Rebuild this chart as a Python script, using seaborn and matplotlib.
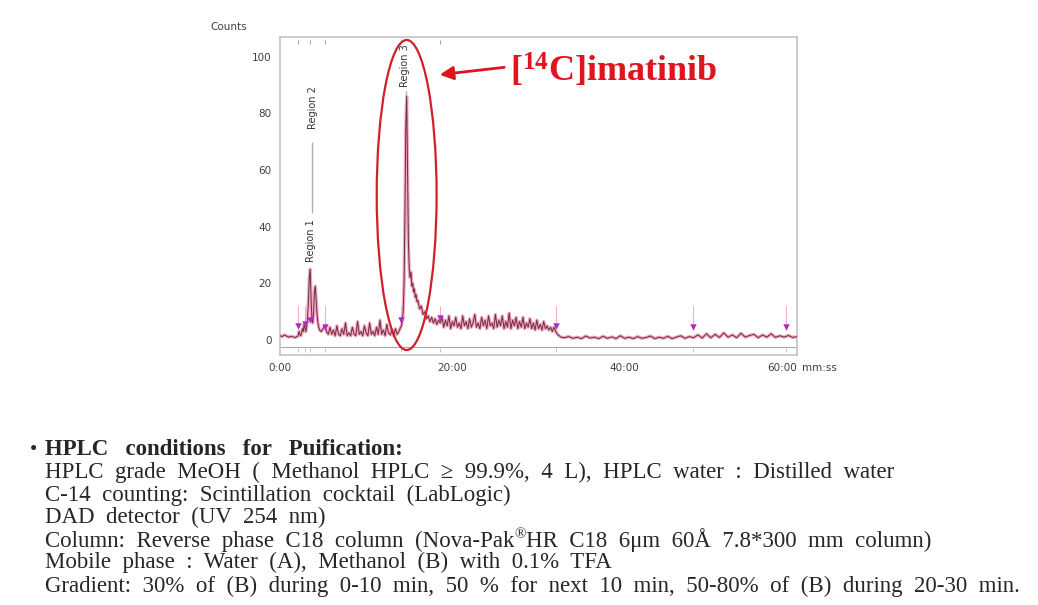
import numpy as np
import matplotlib.pyplot as plt
import seaborn as sns
from matplotlib.patches import Ellipse

# radio-HPLC trace, time in minutes, counts
time_min = [
    0.0, 0.25, 0.5, 0.75, 1.0, 1.25, 1.5, 1.75, 2.0,
    2.1, 2.2, 2.3, 2.4, 2.5, 2.6, 2.7, 2.8, 2.9, 3.0, 3.1, 3.2, 3.3, 3.4, 3.5,
    3.6, 3.7, 3.8, 3.9, 4.0, 4.1, 4.2, 4.3, 4.4, 4.5, 4.6, 4.8, 5.0, 5.2, 5.4, 5.6,
    5.8, 6.0, 6.2, 6.4, 6.6, 6.8, 7.0, 7.2, 7.4, 7.6, 7.8, 8.0, 8.2, 8.4, 8.6, 8.8,
    9.0, 9.2, 9.4, 9.6, 9.8, 10.0, 10.2, 10.4, 10.6, 10.8, 11.0, 11.2, 11.4, 11.6,
    11.8, 12.0, 12.2, 12.4, 12.6, 12.8, 13.0, 13.2, 13.4, 13.6, 13.8, 14.0,
    14.1, 14.2, 14.3, 14.4, 14.5, 14.6, 14.7, 14.8, 14.9, 15.0, 15.1, 15.2, 15.3,
    15.4, 15.5, 15.6, 15.7, 15.8, 15.9, 16.0, 16.2, 16.4, 16.6, 16.8, 17.0, 17.2,
    17.4, 17.6, 17.8, 18.0, 18.2, 18.4, 18.6, 18.8,
    19.0, 19.2, 19.4, 19.6, 19.8, 20.0, 20.2, 20.4, 20.6, 20.8, 21.0, 21.2, 21.4,
    21.6, 21.8, 22.0, 22.2, 22.4, 22.6, 22.8, 23.0, 23.2, 23.4, 23.6, 23.8, 24.0,
    24.2, 24.4, 24.6, 24.8, 25.0, 25.2, 25.4, 25.6, 25.8, 26.0, 26.2, 26.4, 26.6,
    26.8, 27.0, 27.2, 27.4, 27.6, 27.8, 28.0, 28.2, 28.4, 28.6, 28.8, 29.0, 29.2,
    29.4, 29.6, 29.8, 30.0, 30.2, 30.4, 30.6, 30.8, 31.0, 31.2, 31.4, 31.6, 31.8,
    32.0, 32.2, 32.4, 32.6,
    33.0, 33.5, 34.0, 34.5, 35.0, 35.5, 36.0, 36.5, 37.0, 37.5, 38.0, 38.5, 39.0,
    39.5, 40.0, 40.5, 41.0, 41.5, 42.0, 42.5, 43.0, 43.5, 44.0, 44.5, 45.0, 45.5,
    46.0, 46.5, 47.0, 47.5, 48.0, 48.5, 49.0, 49.5, 50.0, 50.5, 51.0, 51.5, 52.0,
    52.5, 53.0, 53.5, 54.0, 54.5, 55.0, 55.5, 56.0, 56.5, 57.0, 57.5, 58.0, 58.5,
    59.0, 59.5, 60.0,
]
counts = [
    1.5, 1.2, 1.8, 1.4, 1.0, 1.3, 1.1, 0.9, 1.2,
    1.5, 3.0, 2.0, 1.5, 2.5, 4.0, 3.0, 5.5, 4.0, 3.0, 5.0, 8.0, 14.0, 22.0, 25.0,
    15.0, 8.0, 6.0, 10.0, 17.0, 19.0, 14.0, 9.0, 6.0, 4.5, 3.5, 3.0, 4.0, 5.0, 3.0, 2.0,
    4.5, 2.0, 3.5, 1.5, 5.0, 2.0, 1.5, 4.0, 2.0, 6.0, 1.5, 2.5, 1.5, 4.5, 2.0, 1.5,
    6.5, 2.0, 3.0, 1.5, 5.0, 2.5, 1.5, 6.0, 2.0, 3.0, 1.5, 4.5, 2.0, 7.0,
    2.0, 3.5, 1.5, 5.5, 2.5, 1.8, 3.5, 1.5, 4.0, 2.0, 3.0, 4.5,
    5.0, 7.0, 10.0, 20.0, 45.0, 75.0, 86.0, 60.0, 35.0, 25.0, 22.0, 24.0, 19.0,
    20.0, 17.0, 18.0, 15.0, 16.0, 13.5, 14.0, 11.0, 12.0, 9.0, 10.0, 7.5, 8.5,
    6.5, 8.0, 6.0, 7.5, 5.5, 7.0, 6.0, 8.0,
    4.5, 7.0, 5.0, 8.5, 4.0, 6.5, 5.0, 8.0, 4.5, 6.0, 4.0, 8.5, 5.0,
    6.5, 4.0, 7.5, 4.5, 6.0, 9.0, 4.5, 6.0, 4.0, 8.0, 5.0, 7.0, 4.0,
    8.5, 5.0, 6.0, 4.0, 9.0, 4.5, 7.0, 5.0, 8.5, 4.0, 6.5, 4.5, 9.5,
    4.0, 7.0, 5.0, 8.0, 4.0, 6.5, 4.5, 8.0, 4.0, 6.0, 4.5, 7.5, 4.0,
    6.0, 3.5, 7.0, 4.0, 5.5, 3.5, 6.5, 4.0, 5.0, 3.5, 4.5, 3.0, 4.5,
    3.0, 2.0, 1.5, 1.0,
    0.8, 1.2, 0.6, 1.0, 0.5, 1.4, 0.7, 1.0, 0.5, 1.3, 0.6, 1.1, 0.5,
    1.5, 0.6, 1.0, 0.5, 1.2, 0.6, 0.9, 1.4, 0.5, 1.0, 0.6, 1.3, 0.5,
    1.0, 1.5, 0.6, 1.2, 0.8, 1.8, 0.7, 2.2, 0.8, 2.0, 0.9, 2.5, 1.0,
    1.8, 0.8, 2.4, 1.0, 1.6, 2.0, 0.8, 1.8, 1.0, 2.2, 0.9, 1.5, 1.0,
    1.6, 0.9, 1.2,
]

# region boundary markers (magenta triangles)
marker_t = [2.1, 2.9, 3.5, 5.2, 14.1, 18.6, 32.0, 47.9, 58.7]
marker_y = [5.0, 5.7, 7.0, 4.7, 7.0, 7.7, 4.9, 4.6, 4.6]

# region labels: (time, counts of label centre)
region_names = ['Region 1', 'Region 2', 'Region 3']
region_t = [3.6, 3.8, 14.5]
region_y = [35.0, 82.0, 97.0]

xtick_vals = [0, 20, 40, 60]
xtick_text = ['0:00', '20:00', '40:00', '60:00']
ytick_vals = [0, 20, 40, 60, 80, 100]

title_line = 'HPLC conditions for Puification:'
conditions = [
    ['HPLC grade MeOH ( Methanol HPLC \u2265 99.9%, 4 L), HPLC water : Distilled water'],
    ['C-14 counting: Scintillation cocktail (LabLogic)'],
    ['DAD detector (UV 254 nm)'],
    ['Column: Reverse phase C18 column (Nova-Pak', '\u00ae',
     'HR C18 6\u03bcm 60\u00c5 7.8*300 mm column)'],
    ['Mobile phase : Water (A), Methanol (B) with 0.1% TFA'],
    ['Gradient: 30% of (B) during 0-10 min, 50 % for next 10 min, 50-80% of (B) during 20-30 min.'],
]

sns.set_style('white')
plt.rcParams['font.family'] = ['DejaVu Sans']
plt.rcParams['mathtext.fontset'] = 'custom'
plt.rcParams['mathtext.rm'] = 'Liberation Serif'
plt.rcParams['mathtext.bf'] = 'Liberation Serif:bold'

W, H = 1038, 605
fig = plt.figure(figsize=(W / 100, H / 100), dpi=100)
ax = fig.add_axes([280 / W, 1 - 355 / H, 517 / W, 318 / H])

# pink halo + dark trace
sns.lineplot(x=time_min, y=counts, ax=ax, color='#f2a6c8', lw=2.4,
             estimator=None, sort=False, zorder=2)
sns.lineplot(x=time_min, y=counts, ax=ax, color='#6e2f35', lw=0.7,
             estimator=None, sort=False, zorder=3)

# thin pink region lines above triangles
ax.vlines(marker_t, [y + 1 for y in marker_y], 12, color='#f4a8d8', lw=0.8, zorder=1)
ax.scatter(marker_t, marker_y, marker='v', s=22, color='#b02cc0', zorder=5, linewidths=0)

# gray region marker lines
ax.vlines([3.75], 45, 70, color='#b0b0b0', lw=1.0, zorder=1)
ax.vlines([14.6], 86, 88, color='#b0b0b0', lw=1.0, zorder=1)
for name, t, y in zip(region_names, region_t, region_y):
    ax.text(t, y, name, rotation=90, ha='center', va='center', fontsize=7,
            color='#2f3838', zorder=6)

# bottom region strip
ax.axhline(-2.4, color='#a8a8a8', lw=0.8)
ax.vlines(marker_t, -4.2, -3.0, color='#b8b8b8', lw=0.6)
ax.vlines([2.1, 3.5, 5.2, 14.1, 18.6], 104.5, 106, color='#909090', lw=0.6)

# red ellipse around main peak
ax.add_patch(Ellipse((14.7, 51.2), 6.95, 109.5, fill=False, edgecolor='#d0202a',
                     lw=1.6, clip_on=False, zorder=7))

ax.set_xlim(0, 60)
ax.set_ylim(-5.3, 107)
ax.set_xticks(xtick_vals)
ax.set_xticklabels(xtick_text)
ax.set_yticks(ytick_vals)
ax.tick_params(axis='both', labelsize=7.5, labelcolor='#404040', color='#a0a0a0',
               length=3, width=0.6, direction='out')
ax.tick_params(axis='x', pad=3)
ax.tick_params(axis='y', pad=3)
ax.get_xticklabels()[-1].set_ha('right')
for s in ax.spines.values():
    s.set_color('#c4c4c4')
    s.set_linewidth(1.2)
ax.set_xlabel('')
ax.set_ylabel('')

fig.text(210 / W, 1 - 27 / H, 'Counts', fontsize=7.5, color='#404040', va='center')
fig.text(802 / W, 1 - 368 / H, 'mm:ss', fontsize=7.5, color='#404040', va='center')

# [14C]imatinib annotation
red = '#e0141e'
fig.text(510 / W, 1 - 70 / H, r'$\mathbf{[^{14}C]imatinib}$', fontsize=26,
         color=red, va='center', ha='left')
ax.annotate('', xy=(437 / W, 1 - 75 / H), xytext=(507 / W, 1 - 67 / H),
            xycoords='figure fraction', textcoords='figure fraction',
            arrowprops=dict(arrowstyle='-|>', color=red, lw=2, mutation_scale=20))

# HPLC conditions text block
serif = 'Liberation Serif'
fs = 16.5
fig.text(30 / W, 1 - 455 / H, '\u2022', fontsize=15, family=serif, va='baseline')
fig.text(45 / W, 1 - 455 / H, title_line.replace(' ', '   '), fontsize=fs,
         family=serif, fontweight='bold', va='baseline')

renderer = fig.canvas.get_renderer()
baselines = [478, 501, 523, 547, 568, 592]
for parts, b in zip(conditions, baselines):
    x = 45
    for i, part in enumerate(parts):
        if part == '\u00ae':
            t = fig.text(x / W, 1 - (b - 9) / H, part, fontsize=11, family=serif,
                         va='baseline')
        else:
            t = fig.text(x / W, 1 - b / H, part.replace(' ', '  '), fontsize=fs,
                         family=serif, va='baseline')
        x += t.get_window_extent(renderer).width

fig.savefig('out.png', dpi=100)
